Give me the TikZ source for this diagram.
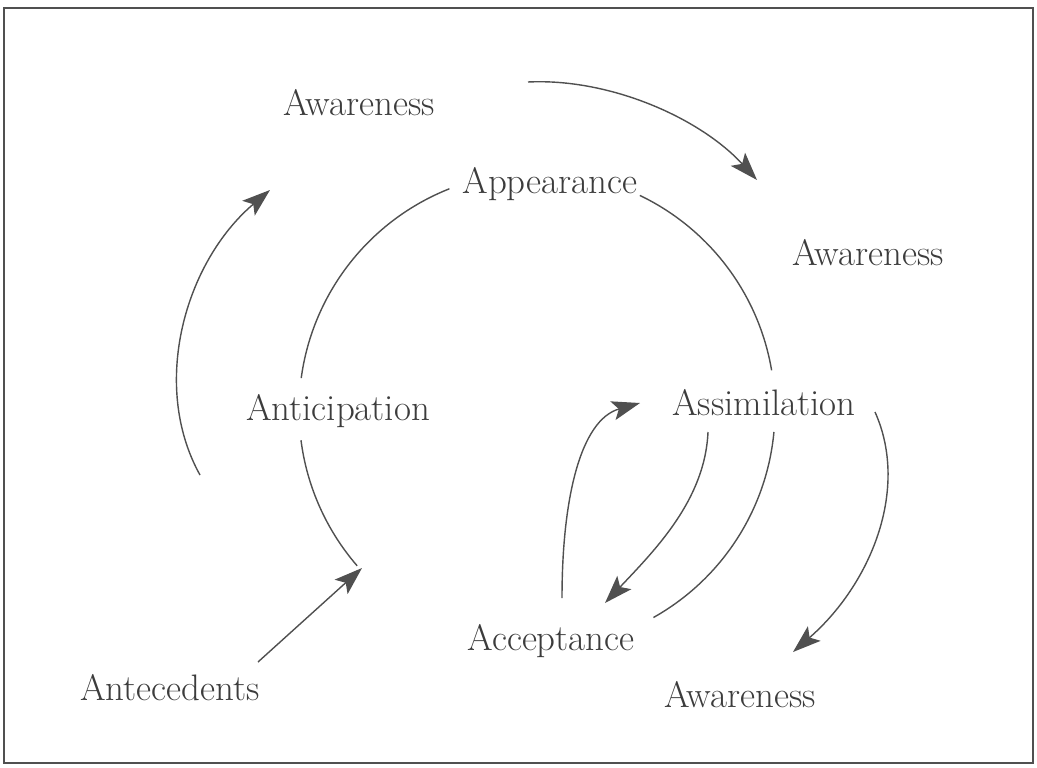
\documentclass[tikz,border=0pt]{standalone}
\usepackage{fontspec}
\usetikzlibrary{arrows.meta, positioning}
\definecolor{inkgray}{HTML}{3C3C3C}
\definecolor{linegray}{HTML}{505050}

\begin{document}
\begin{tikzpicture}[x=0.02cm, y=0.02cm]
\tikzstyle{word} = [anchor=base, inner sep=0pt, text=inkgray, font=\fontsize{21}{24}\selectfont]
\tikzstyle{ring} = [draw=linegray, line width=0.8pt]
\tikzstyle{flow} = [ring, -{Stealth[length=16pt, width=11pt, inset=3.5pt]}]

\useasboundingbox (0,0) rectangle (1037,-767);
\draw[linegray, line width=1.1pt] (4,-8) rectangle (1033,-763);

% Stages
\node (awaretop) [word] at (359,-115) {Awareness};
\node (appear) [word] at (550,-193) {Appearance};
\node (awareright) [word] at (868,-265) {Awareness};
\node (anticip) [word] at (338,-420) {Anticipation};
\node (assim) [word] at (764,-415) {Assimilation};
\node (accept) [word] at (551,-650) {Acceptance};
\node (antec) [word] at (170,-700) {Antecedents};
\node (awarebottom) [word] at (740,-707) {Awareness};

% The cycle
\coordinate (hub) at (537,-410);
\draw[ring] (hub) ++(111.6:4.76cm) arc[start angle=111.6, end angle=172.3, radius=4.76cm];
\draw[ring] (hub) ++(187.3:4.76cm) arc[start angle=187.3, end angle=220.9, radius=4.76cm];
\draw[ring] (hub) ++(-60.7:4.76cm) arc[start angle=-60.7, end angle=-5.3, radius=4.76cm];
\draw[ring] (hub) ++(9.6:4.76cm) arc[start angle=9.6, end angle=64.4, radius=4.76cm];

% Arrow ends
\coordinate (topstart) at (528,-82);
\coordinate (topend) at (757,-180);
\coordinate (leftstart) at (200,-475);
\coordinate (leftend) at (270,-190);
\coordinate (antstart) at (258,-662);
\coordinate (antend) at (362,-568);
\coordinate (backstart) at (562,-598);
\coordinate (backend) at (640,-403);
\coordinate (downstart) at (708,-432);
\coordinate (downend) at (605,-603);
\coordinate (rightstart) at (875,-412);
\coordinate (rightend) at (793,-652);

% Arrows
\draw[flow] (topstart) .. controls (610,-78) and (700,-118) .. (topend);
\draw[flow] (leftstart) .. controls (150,-385) and (185,-262) .. (leftend);
\draw[flow] (antstart) -- (antend);
\draw[flow] (backstart) .. controls (562,-500) and (580,-420) .. (backend);
\draw[flow] (downstart) .. controls (705,-500) and (655,-550) .. (downend);
\draw[flow] (rightstart) .. controls (910,-490) and (870,-585) .. (rightend);

\end{tikzpicture}
\end{document}
